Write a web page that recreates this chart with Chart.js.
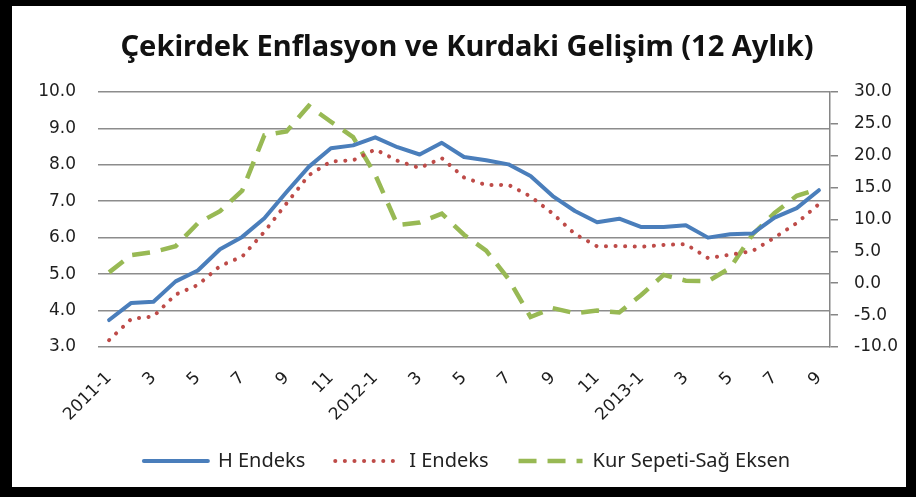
<!DOCTYPE html>
<html><head><meta charset="utf-8">
<script src="https://cdn.jsdelivr.net/npm/chart.js@4.4.1/dist/chart.umd.min.js"></script>
<style>html,body{margin:0;padding:0;background:#fff}#c{display:block}</style>
</head><body>
<canvas id="c" width="916" height="497"></canvas>
<script>
const titleText = 'Çekirdek Enflasyon ve Kurdaki Gelişim (12 Aylık)';
const months = ["2011-1","2","3","4","5","6","7","8","9","10","11","12",
                "2012-1","2","3","4","5","6","7","8","9","10","11","12",
                "2013-1","2","3","4","5","6","7","8","9"];
const hEndeks = [3.74,4.21,4.24,4.80,5.10,5.68,6.02,6.53,7.25,7.94,8.45,8.53,
                 8.75,8.48,8.28,8.60,8.21,8.12,8.01,7.69,7.14,6.73,6.42,6.52,
                 6.29,6.29,6.34,6.00,6.09,6.11,6.55,6.81,7.30];
const iEndeks = [3.19,3.77,3.84,4.44,4.70,5.22,5.48,6.16,6.94,7.71,8.09,8.12,
                 8.42,8.11,7.91,8.18,7.65,7.44,7.45,7.13,6.66,6.10,5.76,5.77,
                 5.75,5.80,5.82,5.44,5.53,5.63,6.00,6.40,6.92];
const kurSepeti = [1.7,4.4,4.9,5.8,9.4,11.3,14.5,23.2,23.8,27.8,25.3,22.9,
                   17.0,9.1,9.5,10.9,7.6,5.1,0.7,-5.3,-3.9,-4.7,-4.3,-4.6,
                   -1.8,1.3,0.4,0.3,2.4,7.6,11.0,13.7,14.8];
const seriesNames = ['H Endeks','I Endeks','Kur Sepeti-Sağ Eksen'];

const frame = {
  id: 'frame',
  beforeDraw(chart) {
    const ctx = chart.ctx;
    ctx.save();
    ctx.fillStyle = '#000';
    ctx.fillRect(0, 0, chart.width, chart.height);
    ctx.fillStyle = '#fff';
    ctx.fillRect(12, 6, chart.width - 22, chart.height - 16);
    ctx.restore();
  }
};

const tickFont = {family: 'DejaVu Sans', size: 17};
const tickColor = '#1e1e1e';

new Chart(document.getElementById('c'), {
  type: 'line',
  data: {
    labels: months,
    datasets: [
      {label: seriesNames[0], data: hEndeks, yAxisID: 'y', borderColor: '#4A7EBB', backgroundColor: '#4A7EBB',
       borderWidth: 4, pointRadius: 0, tension: 0, borderCapStyle: 'round', borderJoinStyle: 'round'},
      {label: seriesNames[1], data: iEndeks, yAxisID: 'y', borderColor: '#BE4B48', backgroundColor: '#BE4B48',
       borderWidth: 4, borderDash: [0.1, 9.5], borderCapStyle: 'round', pointRadius: 0, tension: 0},
      {label: seriesNames[2], data: kurSepeti, yAxisID: 'y1', borderColor: '#98B954', backgroundColor: '#98B954',
       borderWidth: 4.5, borderDash: [18, 11], borderCapStyle: 'butt', pointRadius: 0, tension: 0}
    ]
  },
  options: {
    responsive: false, animation: false, devicePixelRatio: 1,
    layout: {padding: {left: 18, right: 0, top: 0, bottom: 16}},
    plugins: {
      title: {display: true, text: titleText, color: '#111',
              font: {family: 'Noto Sans', size: 29, weight: 'bold'}, padding: {top: 30, bottom: 27}},
      legend: {position: 'bottom',
               labels: {usePointStyle: true, pointStyle: 'line', pointStyleWidth: 64, padding: 30,
                        color: '#222', font: {family: 'Noto Sans', size: 20},
                        generateLabels: chart => chart.data.datasets.map((ds, i) => ({
                          text: ds.label, fillStyle: ds.borderColor, strokeStyle: ds.borderColor,
                          lineWidth: ds.borderWidth, lineDash: ds.borderDash || [],
                          lineCap: ds.borderCapStyle || 'butt', pointStyle: 'line',
                          hidden: false, datasetIndex: i, fontColor: '#222'
                        }))}},
      tooltip: {enabled: false}
    },
    scales: {
      x: {
        offset: true,
        grid: {display: false, drawTicks: false}, border: {display: false},
        ticks: {autoSkip: false, maxRotation: 45, minRotation: 45, padding: 21, color: tickColor, font: tickFont,
                callback: (v, i) => (i % 2 === 0 ? months[i] : '')},
        afterFit: s => { s.height = 74; }
      },
      y: {
        position: 'left', min: 3, max: 10,
        ticks: {stepSize: 1, padding: 22, color: tickColor, font: tickFont, callback: v => v.toFixed(1)},
        grid: {color: '#8c8c8c', lineWidth: 1.5, drawTicks: false}, border: {display: false},
        afterFit: s => { s.width = 80; }
      },
      y1: {
        position: 'right', min: -10, max: 30,
        ticks: {stepSize: 5, padding: 16, color: tickColor, font: tickFont, callback: v => v.toFixed(1)},
        grid: {drawOnChartArea: false, drawTicks: true, tickLength: 8, color: '#868686', lineWidth: 1.5},
        border: {display: true, color: '#868686', width: 1.5},
        afterFit: s => { s.width = 86; }
      }
    }
  },
  plugins: [frame]
});
</script>
</body></html>
